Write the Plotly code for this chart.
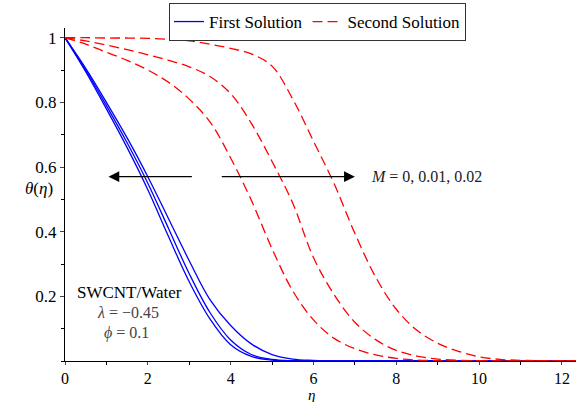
import plotly.graph_objects as go

eta = [0, 0.5, 1, 1.5, 2, 2.5, 3, 3.5, 4, 4.5, 5, 5.5, 6, 6.5, 7, 7.5, 8, 8.5, 9, 9.5, 10, 10.5, 11, 11.5, 12.34]

# First solution (solid blue), three values of M
first_a = [1, 0.895, 0.78, 0.66, 0.53, 0.385, 0.245, 0.13, 0.05, 0.014, 0.003, 0.001, 0, 0, 0, 0, 0, 0, 0, 0, 0, 0, 0, 0, 0]
first_b = [1, 0.90, 0.79, 0.675, 0.55, 0.41, 0.27, 0.15, 0.065, 0.02, 0.005, 0.001, 0, 0, 0, 0, 0, 0, 0, 0, 0, 0, 0, 0, 0]
first_c = [1, 0.905, 0.80, 0.69, 0.57, 0.44, 0.31, 0.19, 0.11, 0.053, 0.02, 0.006, 0.002, 0, 0, 0, 0, 0, 0, 0, 0, 0, 0, 0, 0]

# Second solution (dashed red), three values of M
second_a = [1, 0.98, 0.955, 0.93, 0.90, 0.862, 0.81, 0.74, 0.628, 0.497, 0.347, 0.217, 0.127, 0.07, 0.038, 0.019, 0.008, 0.003, 0.001, 0, 0, 0, 0, 0, 0]
second_b = [1, 0.99, 0.977, 0.963, 0.947, 0.93, 0.91, 0.88, 0.827, 0.735, 0.617, 0.488, 0.32, 0.205, 0.12, 0.066, 0.033, 0.015, 0.006, 0.002, 0.001, 0, 0, 0, 0]
second_c = [1, 1.0, 0.999, 0.999, 0.998, 0.995, 0.99, 0.98, 0.967, 0.95, 0.912, 0.81, 0.68, 0.548, 0.395, 0.26, 0.16, 0.095, 0.055, 0.03, 0.013, 0.005, 0.002, 0.001, 0]

x_ticks = [0, 2, 4, 6, 8, 10, 12]
y_ticks = [0.2, 0.4, 0.6, 0.8, 1]
y_tick_text = ["0.2", "0.4", "0.6", "0.8", "1"]

SERIF = "Liberation Serif"


def fnt(size, color="black"):
    return dict(family=SERIF, size=size, color=color)


fig = go.Figure()
for i, ys in enumerate([first_a, first_b, first_c]):
    fig.add_trace(go.Scatter(x=eta, y=ys, mode="lines", name="First Solution",
                             showlegend=(i == 0), legendgroup="first",
                             line=dict(color="#0000ff", width=1.3, shape="spline", smoothing=1.0)))
for i, ys in enumerate([second_a, second_b, second_c]):
    fig.add_trace(go.Scatter(x=eta, y=ys, mode="lines", name="Second Solution",
                             showlegend=(i == 0), legendgroup="second",
                             line=dict(color="#ff0000", width=1.3, dash="10px,5px", shape="spline", smoothing=1.0)))

fig.update_layout(
    width=576, height=402,
    margin=dict(l=65, r=0, t=28, b=41),
    paper_bgcolor="white", plot_bgcolor="white",
    font=fnt(15),
    showlegend=True,
    legend=dict(orientation="h", x=(169 - 65) / 511, xanchor="left",
                y=(361 - 3) / 333, yanchor="top",
                bordercolor="#333333", borderwidth=1, bgcolor="white",
                font=fnt(17), tracegroupgap=0),
    xaxis=dict(range=[0, 12.34], showline=True, linecolor="black", linewidth=1,
               showgrid=False, zeroline=False, ticks="outside", ticklen=3,
               tickvals=x_ticks, tickfont=fnt(16),
               minor=dict(dtick=1, ticks="outside", ticklen=3, tickcolor="black")),
    yaxis=dict(range=[0, 1.03], showline=True, linecolor="black", linewidth=1,
               showgrid=False, zeroline=False, ticks="outside", ticklen=4,
               tickvals=y_ticks, ticktext=y_tick_text, tickfont=fnt(17),
               minor=dict(dtick=0.1, ticks="outside", ticklen=3, tickcolor="black")),
)

fig.add_annotation(xref="paper", yref="y", x=-0.02, y=0.535, text="<i>θ</i>(<i>η</i>)",
                   showarrow=False, xanchor="right", font=fnt(17))
fig.add_annotation(xref="x", yref="paper", x=5.95, y=0, yshift=-34, text="<i>η</i>",
                   showarrow=False, yanchor="middle", font=fnt(15))
# Arrows
fig.add_annotation(x=1.05, y=0.57, ax=3.1, ay=0.57, xref="x", yref="y", axref="x", ayref="y",
                   text="", showarrow=True, arrowhead=2, arrowsize=1.8, arrowwidth=1.2, arrowcolor="black")
fig.add_annotation(x=7.0, y=0.57, ax=3.75, ay=0.57, xref="x", yref="y", axref="x", ayref="y",
                   text="", showarrow=True, arrowhead=2, arrowsize=1.8, arrowwidth=1.2, arrowcolor="black")
fig.add_annotation(x=7.35, y=0.57, text="<i>M</i> = 0, 0.01, 0.02", showarrow=False,
                   xanchor="left", font=fnt(16, "#222222"))
fig.add_annotation(x=1.55, y=0.212, text="SWCNT/Water", showarrow=False, font=fnt(17))
fig.add_annotation(x=1.52, y=0.15, text="<i>λ</i> = −0.45", showarrow=False, font=fnt(16, "#444444"))
fig.add_annotation(x=1.48, y=0.086, text="<i>ϕ</i> = 0.1", showarrow=False, font=fnt(16, "#444444"))

fig.write_html("out.html")
